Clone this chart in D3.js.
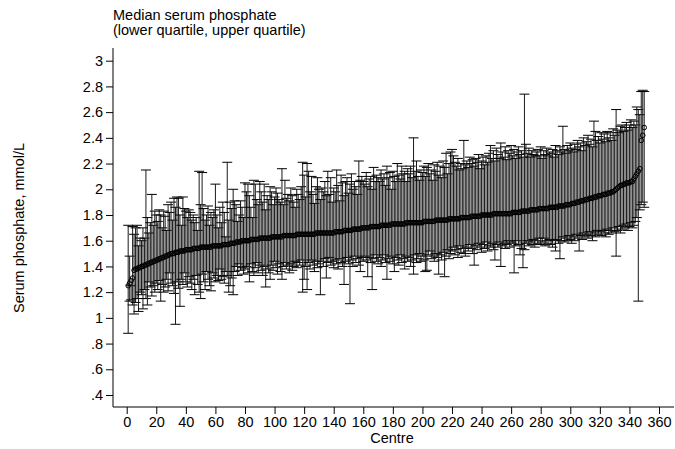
<!DOCTYPE html>
<html><head><meta charset="utf-8">
<script src="https://cdn.jsdelivr.net/npm/d3@7"></script>
<style>
body{margin:0;background:#fff}
text{font-family:"Liberation Sans",Arial,sans-serif;fill:#000}
</style></head>
<body><svg id="c" width="675" height="449"></svg>
<script>
// median per centre, sorted
const medians = [
1.25,1.27,1.29,1.31,1.37,1.38,1.38,1.39,1.39,1.40,
1.40,1.41,1.41,1.42,1.42,1.43,1.43,1.44,1.44,1.45,
1.45,1.46,1.46,1.47,1.47,1.48,1.48,1.49,1.49,1.50,
1.50,1.50,1.51,1.51,1.51,1.52,1.52,1.52,1.52,1.53,
1.53,1.53,1.53,1.53,1.54,1.54,1.54,1.54,1.54,1.55,
1.55,1.55,1.55,1.55,1.55,1.55,1.55,1.56,1.56,1.56,
1.56,1.56,1.56,1.56,1.57,1.57,1.57,1.57,1.57,1.58,
1.58,1.58,1.58,1.59,1.59,1.59,1.59,1.60,1.60,1.60,
1.60,1.60,1.60,1.61,1.61,1.61,1.61,1.61,1.61,1.62,
1.62,1.62,1.62,1.62,1.62,1.62,1.62,1.63,1.63,1.63,
1.63,1.63,1.63,1.63,1.63,1.64,1.64,1.64,1.64,1.64,
1.64,1.64,1.64,1.64,1.65,1.65,1.65,1.65,1.65,1.65,
1.65,1.65,1.65,1.65,1.65,1.65,1.65,1.66,1.66,1.66,
1.66,1.66,1.66,1.66,1.66,1.66,1.66,1.66,1.66,1.66,
1.67,1.67,1.67,1.67,1.67,1.67,1.68,1.68,1.68,1.68,
1.68,1.68,1.69,1.69,1.69,1.69,1.69,1.69,1.70,1.70,
1.70,1.70,1.70,1.70,1.71,1.71,1.71,1.71,1.71,1.71,
1.71,1.72,1.72,1.72,1.72,1.72,1.72,1.72,1.73,1.73,
1.73,1.73,1.73,1.73,1.73,1.73,1.73,1.73,1.74,1.74,
1.74,1.74,1.74,1.74,1.74,1.74,1.74,1.74,1.74,1.74,
1.75,1.75,1.75,1.75,1.75,1.75,1.75,1.75,1.76,1.76,
1.76,1.76,1.76,1.76,1.76,1.76,1.76,1.77,1.77,1.77,
1.77,1.77,1.77,1.77,1.77,1.78,1.78,1.78,1.78,1.78,
1.78,1.78,1.79,1.79,1.79,1.79,1.79,1.79,1.79,1.80,
1.80,1.80,1.80,1.80,1.80,1.80,1.80,1.81,1.81,1.81,
1.81,1.81,1.81,1.81,1.81,1.81,1.81,1.81,1.81,1.81,
1.82,1.82,1.82,1.82,1.82,1.82,1.83,1.83,1.83,1.83,
1.83,1.83,1.84,1.84,1.84,1.84,1.84,1.84,1.85,1.85,
1.85,1.85,1.85,1.85,1.85,1.86,1.86,1.86,1.86,1.86,
1.86,1.87,1.87,1.87,1.87,1.87,1.88,1.88,1.88,1.88,
1.89,1.89,1.89,1.90,1.90,1.90,1.91,1.91,1.91,1.92,
1.92,1.92,1.93,1.93,1.93,1.94,1.94,1.94,1.95,1.95,
1.95,1.96,1.96,1.96,1.97,1.97,1.97,1.98,1.98,1.99,
2.00,2.01,2.02,2.03,2.03,2.04,2.04,2.05,2.05,2.05,
2.06,2.06,2.08,2.10,2.12,2.14,2.16,2.38,2.42,2.48];

const upperQ = [
1.72,1.48,1.14,1.71,1.65,1.70,1.72,1.56,1.62,1.60,
1.70,1.62,2.15,1.78,1.66,1.74,1.96,1.72,1.83,1.80,
1.75,1.84,1.80,1.70,1.83,1.79,1.68,1.88,1.82,1.90,
1.76,1.93,1.86,1.94,1.93,1.80,1.72,1.94,1.85,1.83,
1.78,1.84,1.82,1.76,1.80,1.74,1.78,1.68,2.14,1.88,
2.13,1.85,1.76,1.80,1.87,1.72,1.82,1.78,1.84,2.04,
1.80,1.70,1.86,1.74,1.90,1.82,1.63,2.21,1.76,1.90,
1.85,2.00,1.91,1.88,1.75,1.80,1.91,1.86,1.78,2.05,
1.98,2.04,1.95,1.86,1.78,2.07,2.04,1.92,1.88,2.06,
1.98,1.90,2.04,1.84,1.95,1.92,2.02,1.98,1.88,1.94,
2.01,1.97,1.92,1.90,2.16,1.88,2.07,1.93,1.96,1.91,
2.01,1.95,1.90,1.86,2.00,1.96,1.92,2.02,2.21,2.11,
1.94,2.20,2.14,1.98,2.10,1.96,1.89,2.02,2.09,2.00,
1.92,2.01,1.98,2.06,1.95,2.14,1.96,2.09,1.90,2.01,
1.98,2.15,2.03,1.91,2.11,2.05,1.95,2.06,2.09,1.97,
2.04,2.12,2.00,2.06,2.02,1.96,2.22,2.07,2.10,2.06,
2.04,2.13,2.02,2.08,2.10,2.00,2.17,2.06,2.11,2.09,
2.06,2.15,2.08,2.12,2.03,2.18,2.09,2.13,2.00,2.14,
2.10,2.06,2.20,2.11,2.08,2.18,2.12,2.14,2.06,2.16,
2.12,2.18,2.09,2.40,2.14,2.22,2.10,2.07,2.15,2.13,
2.18,2.10,2.17,2.20,2.12,2.15,2.07,2.19,2.14,2.21,
2.11,2.18,2.09,2.22,2.17,2.28,2.12,2.20,2.29,2.31,
2.26,2.21,2.18,2.24,2.15,2.20,2.16,2.38,2.19,2.22,
2.17,2.25,2.20,2.23,2.18,2.24,2.21,2.27,2.16,2.22,
2.25,2.19,2.26,2.21,2.28,2.34,2.24,2.30,2.22,2.32,
2.27,2.24,2.36,2.29,2.25,2.33,2.23,2.30,2.28,2.34,
2.26,2.31,2.24,2.29,2.33,2.27,2.30,2.25,2.74,2.35,
2.28,2.32,2.25,2.30,2.27,2.26,2.29,2.31,2.26,2.33,
2.24,2.30,2.27,2.32,2.26,2.29,2.28,2.31,2.25,2.34,
2.30,2.27,2.33,2.29,2.49,2.31,2.28,2.34,2.30,2.36,
2.32,2.29,2.35,2.31,2.38,2.33,2.36,2.30,2.40,2.34,
2.37,2.42,2.35,2.39,2.33,2.53,2.45,2.38,2.41,2.36,
2.44,2.39,2.43,2.37,2.45,2.40,2.44,2.38,2.47,2.42,
2.62,2.46,2.44,2.49,2.50,2.45,2.48,2.52,2.46,2.50,
2.54,2.48,2.53,2.50,2.64,2.62,2.58,2.76,2.77,2.76];

const lowerQ = [
0.88,1.13,1.25,1.10,1.03,1.12,1.15,1.05,1.20,1.18,
1.07,1.22,1.15,1.10,1.28,1.24,1.17,1.25,1.20,1.27,
1.22,1.29,1.13,1.26,1.20,1.24,1.30,1.21,1.35,1.27,
1.25,1.19,0.95,1.28,1.23,1.09,1.30,1.26,1.35,1.28,
1.24,1.32,1.27,1.22,1.30,1.18,1.33,1.26,1.20,1.15,
1.34,1.28,1.22,1.36,1.30,1.25,1.21,1.35,1.31,1.28,
1.33,1.29,1.38,1.30,1.32,1.27,1.36,1.33,1.20,1.25,
1.31,1.18,1.36,1.40,1.33,1.42,1.37,1.39,1.34,1.38,
1.40,1.35,1.28,1.42,1.36,1.33,1.39,1.43,1.35,1.41,
1.37,1.33,1.40,1.24,1.38,1.35,1.30,1.41,1.37,1.44,
1.39,1.34,1.42,1.36,1.30,1.40,1.43,1.38,1.41,1.35,
1.42,1.37,1.40,1.44,1.39,1.43,1.41,1.45,1.20,1.30,
1.40,1.22,1.43,1.38,1.45,1.41,1.36,1.44,1.39,1.42,
1.18,1.44,1.40,1.46,1.31,1.43,1.47,1.41,1.44,1.39,
1.45,1.42,1.38,1.46,1.43,1.40,1.26,1.44,1.47,1.42,
1.11,1.45,1.40,1.48,1.43,1.46,1.41,1.36,1.47,1.44,
1.48,1.45,1.32,1.47,1.43,1.22,1.46,1.49,1.44,1.42,
1.47,1.40,1.45,1.49,1.43,1.30,1.46,1.44,1.48,1.42,
1.36,1.47,1.45,1.41,1.49,1.43,1.46,1.38,1.48,1.44,
1.47,1.40,1.45,1.34,1.49,1.43,1.46,1.50,1.44,1.48,
1.45,1.36,1.37,1.49,1.52,1.46,1.48,1.44,1.50,1.47,
1.34,1.49,1.45,1.51,1.32,1.48,1.53,1.46,1.50,1.52,
1.55,1.49,1.53,1.47,1.56,1.51,1.54,1.50,1.48,1.55,
1.52,1.57,1.54,1.50,1.41,1.56,1.53,1.58,1.55,1.51,
1.57,1.54,1.59,1.52,1.56,1.55,1.58,1.53,1.45,1.57,
1.55,1.59,1.40,1.56,1.58,1.54,1.57,1.60,1.55,1.59,
1.58,1.35,1.56,1.60,1.57,1.49,1.54,1.39,1.53,1.58,
1.60,1.56,1.59,1.57,1.61,1.55,1.60,1.58,1.62,1.57,
1.59,1.62,1.56,1.60,1.58,1.61,1.57,1.55,1.60,1.52,
1.61,1.58,1.46,1.60,1.63,1.59,1.62,1.60,1.64,1.61,
1.58,1.63,1.60,1.65,1.62,1.52,1.64,1.61,1.66,1.63,
1.65,1.62,1.67,1.64,1.60,1.66,1.63,1.68,1.65,1.67,
1.64,1.68,1.66,1.63,1.69,1.65,1.68,1.66,1.70,1.67,
1.48,1.68,1.71,1.66,1.69,1.72,1.70,1.73,1.68,1.71,
1.74,1.70,1.72,1.75,1.78,1.13,1.84,1.88,1.90,1.86];

const yTicks = [0.4, 0.6, 0.8, 1, 1.2, 1.4, 1.6, 1.8, 2, 2.2, 2.4, 2.6, 2.8, 3];
const xTicks = d3.range(0, 361, 20);

const data = medians.map((m, i) => ({ centre: i + 1, med: m, lo: lowerQ[i], hi: upperQ[i] }));

const svg = d3.select("#c");
const x = d3.scaleLinear().domain([0, 360]).range([126.7, 659]);
const y = d3.scaleLinear().domain([0.4, 3]).range([395, 60.7]);
const axisLeftX = 113, axisBottomY = 407;
const fs = 14.5;

// error bars
const g = svg.append("g").attr("stroke", "#1a1a1a").attr("stroke-width", 1);
data.forEach(d => {
  const cx = x(d.centre);
  g.append("line").attr("x1", cx).attr("x2", cx).attr("y1", y(d.lo)).attr("y2", y(d.hi));
  g.append("line").attr("x1", cx - 5).attr("x2", cx + 5).attr("y1", y(d.lo)).attr("y2", y(d.lo)).attr("stroke", "#000");
  g.append("line").attr("x1", cx - 5).attr("x2", cx + 5).attr("y1", y(d.hi)).attr("y2", y(d.hi)).attr("stroke", "#000");
});

// medians
svg.append("g").selectAll("circle").data(data).join("circle")
  .attr("cx", d => x(d.centre)).attr("cy", d => y(d.med)).attr("r", 2.3)
  .attr("fill", "none").attr("stroke", "#000").attr("stroke-width", 1);

// y axis
const yAxis = d3.axisLeft(y).tickValues(yTicks).tickSize(7).tickPadding(3)
  .tickFormat(d => String(d).replace(/^0\./, "."));
svg.append("g").attr("transform", `translate(${axisLeftX},0)`).call(yAxis)
  .call(a => a.select(".domain").attr("d", `M0,48V${axisBottomY}`))
  .selectAll("text").attr("font-size", fs).attr("font-family", "Liberation Sans, Arial, sans-serif");

// x axis
const xAxis = d3.axisBottom(x).tickValues(xTicks).tickSize(7).tickPadding(3);
svg.append("g").attr("transform", `translate(0,${axisBottomY})`).call(xAxis)
  .call(a => a.select(".domain").attr("d", `M${axisLeftX},0H674`))
  .selectAll("text").attr("font-size", fs).attr("font-family", "Liberation Sans, Arial, sans-serif");

// labels
svg.append("text").attr("x", 113).attr("y", 20).attr("font-size", fs).text("Median serum phosphate");
svg.append("text").attr("x", 113).attr("y", 35).attr("font-size", fs).text("(lower quartile, upper quartile)");
svg.append("text").attr("x", 392).attr("y", 443).attr("font-size", fs).attr("text-anchor", "middle").text("Centre");
svg.append("text").attr("transform", "translate(24,228) rotate(-90)").attr("font-size", fs)
  .attr("text-anchor", "middle").text("Serum phosphate, mmol/L");
</script></body></html>
